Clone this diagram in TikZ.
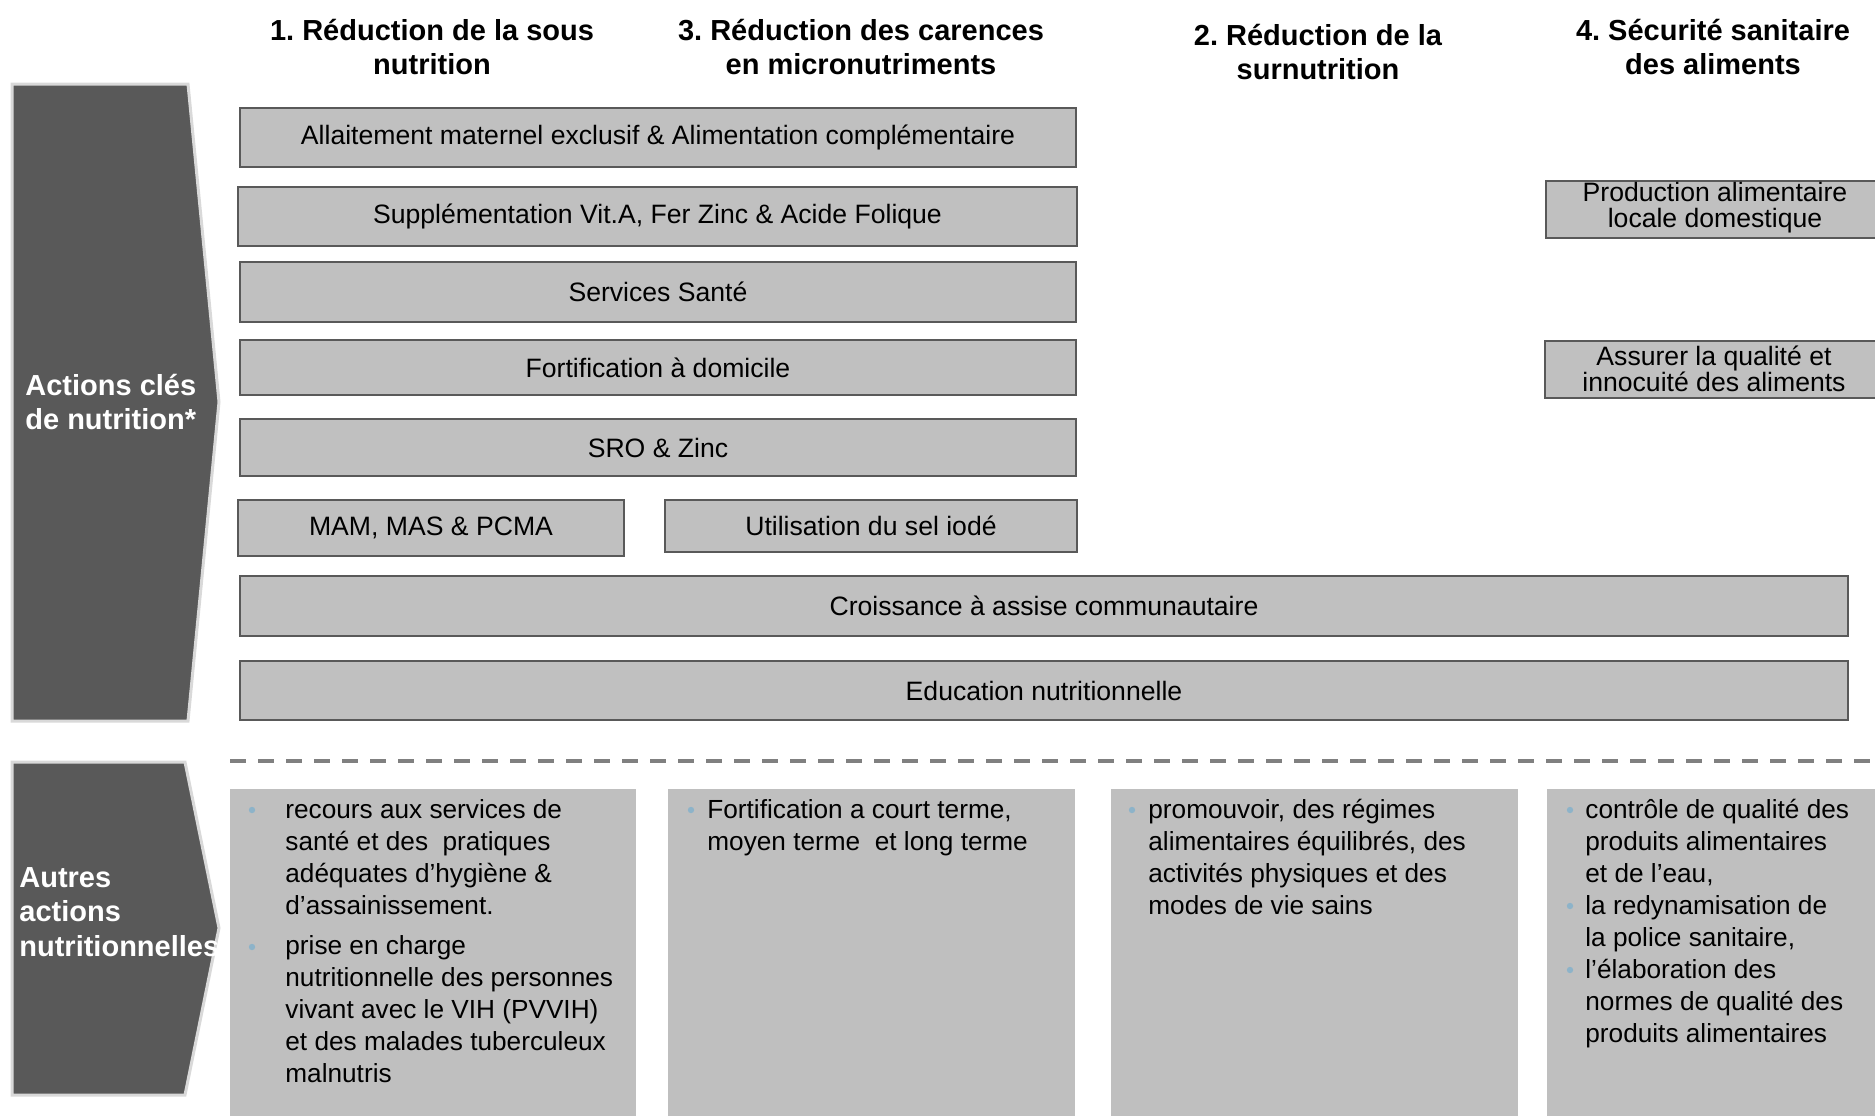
\documentclass[tikz,border=0pt]{standalone}
\usepackage{fontspec}
\setmainfont{Liberation Sans}
\frenchspacing
\definecolor{chevfill}{HTML}{595959}
\definecolor{chevborder}{HTML}{D9D9D9}
\definecolor{boxfill}{HTML}{C0C0C0}
\definecolor{boxborder}{HTML}{595959}
\definecolor{lowfill}{HTML}{BFBFBF}
\definecolor{dashgray}{HTML}{808080}
\definecolor{dotc}{HTML}{8DB3C9}
\begin{document}
\frenchspacing
\begin{tikzpicture}[x=0.5pt,y=-0.5pt,
  chev/.style={fill=chevfill, draw=chevborder, line width=1.5pt},
  chevtext/.style={text=white, font=\bfseries\fontsize{14.5}{17.3}\selectfont, align=left, inner sep=0pt},
  head/.style={font=\bfseries\fontsize{14.5}{17.3}\selectfont, align=center, inner sep=0pt},
  topbox/.style={draw=boxborder, fill=boxfill, line width=1.2pt, font=\fontsize{13.3}{13}\selectfont, align=center, inner sep=0pt},
  boxlabel/.style={font=\fontsize{13.3}{13}\selectfont, align=center, inner sep=0pt},
  lowbox/.style={fill=lowfill, inner sep=0pt},
  lowtext/.style={font=\fontsize{13.1}{16}\selectfont, align=left, inner sep=0pt, anchor=base west},
  bdot/.style={circle, fill=dotc, inner sep=0pt, minimum size=3.2pt},
  dashline/.style={draw=dashgray, line width=2pt, dash pattern=on 8pt off 6pt}
]
\useasboundingbox (0,0) rectangle (1875,1115);
\clip (0,0) rectangle (1875,1115);

% chevrons
\draw[chev] (12,84) -- (188,84) -- (219,402) -- (188,721) -- (12,721) -- cycle;
\node[chevtext, anchor=west] (lab1) at (25,402) {Actions clés\\de nutrition*};
\draw[chev] (12,762) -- (185,762) -- (219,928) -- (185,1095) -- (12,1095) -- cycle;
\node[chevtext, anchor=west] (lab2) at (19,912) {Autres\\actions\\nutritionnelles};

% headers
\node[head] (h1) at (432,47) {1. Réduction de la sous\\nutrition};
\node[head] (h3) at (861,47) {3. Réduction des carences\\en micronutriments};
\node[head] (h2) at (1318,52) {2. Réduction de la\\surnutrition};
\node[head] (h4) at (1713,47) {4. Sécurité sanitaire\\des aliments};

% key action boxes
\node[topbox, minimum width=418pt, minimum height=29.5pt] (b1) at (658,137.5) {Allaitement maternel exclusif \& Alimentation complémentaire};
\node[topbox, minimum width=419.5pt, minimum height=29.5pt] (b2) at (657.5,216.5) {Supplémentation Vit.A, Fer Zinc \& Acide Folique};
\node[topbox, minimum width=418pt, minimum height=30pt] (b3) at (658,292) {Services Santé};
\node[topbox, minimum width=418pt, minimum height=27.5pt] (b4) at (658,367.5) {Fortification à domicile};
\node[topbox, minimum width=418pt, minimum height=28.5pt] (b5) at (658,447.5) {SRO \& Zinc};
\node[topbox, minimum width=193pt, minimum height=28pt] (b6) at (431,528) {MAM, MAS \& PCMA};
\node[topbox, minimum width=206pt, minimum height=26pt] (b7) at (871,526) {Utilisation du sel iodé};
\node[topbox, minimum width=804pt, minimum height=30pt] (b8) at (1044,606) {Croissance à assise communautaire};
\node[topbox, minimum width=804pt, minimum height=29.5pt] (b9) at (1044,690.5) {Education nutritionnelle};
\node[topbox, minimum width=169.5pt, minimum height=28.5pt] (b10) at (1715.5,209.5) {};
\node[boxlabel] (t10) at (1715,208) {Production alimentaire\\locale domestique};
\node[topbox, minimum width=170pt, minimum height=28.5pt] (b11) at (1715,369.5) {};
\node[boxlabel] (t11) at (1714,369) {Assurer la qualité et\\innocuité des aliments};

% dashed separator
\coordinate (dl) at (230,761);
\coordinate (dr) at (1875,761);
\draw[dashline] (dl) -- (dr);

% other actions boxes
\node[lowbox, anchor=north west, minimum width=203pt, minimum height=170pt] (bA) at (230,789) {};
\node[lowbox, anchor=north west, minimum width=203.5pt, minimum height=170pt] (bB) at (668,789) {};
\node[lowbox, anchor=north west, minimum width=203.5pt, minimum height=170pt] (bC) at (1111,789) {};
\node[lowbox, anchor=north west, minimum width=170pt, minimum height=170pt] (bD) at (1547,789) {};

% texts A (anchor = baseline of last line)
\node[bdot] (dA1) at (252,810) {};
\node[lowtext] (tA1) at (285,914) {recours aux services de\\santé et des\ \ pratiques\\adéquates d’hygiène \&\\d’assainissement.};
\node[bdot] (dA2) at (252,947) {};
\node[lowtext] (tA2) at (285,1082) {prise en charge\\nutritionnelle des personnes\\vivant avec le VIH (PVVIH)\\et des malades tuberculeux\\malnutris};

% texts B
\node[bdot] (dB1) at (691,810) {};
\node[lowtext] (tB1) at (707,850) {Fortification a court terme,\\moyen terme\ \ et long terme};

% texts C
\node[bdot] (dC1) at (1132,810) {};
\node[lowtext] (tC1) at (1148,914) {promouvoir, des régimes\\alimentaires équilibrés, des\\activités physiques et des\\modes de vie sains};

% texts D
\node[bdot] (dD1) at (1570,810) {};
\node[lowtext] (tD1) at (1585,882) {contrôle de qualité des\\produits alimentaires\\et de l’eau,};
\node[bdot] (dD2) at (1570,906) {};
\node[lowtext] (tD2) at (1585,946) {la redynamisation de\\la police sanitaire,};
\node[bdot] (dD3) at (1570,970) {};
\node[lowtext] (tD3) at (1585,1042) {l’élaboration des\\normes de qualité des\\produits alimentaires};
\end{tikzpicture}
\end{document}
